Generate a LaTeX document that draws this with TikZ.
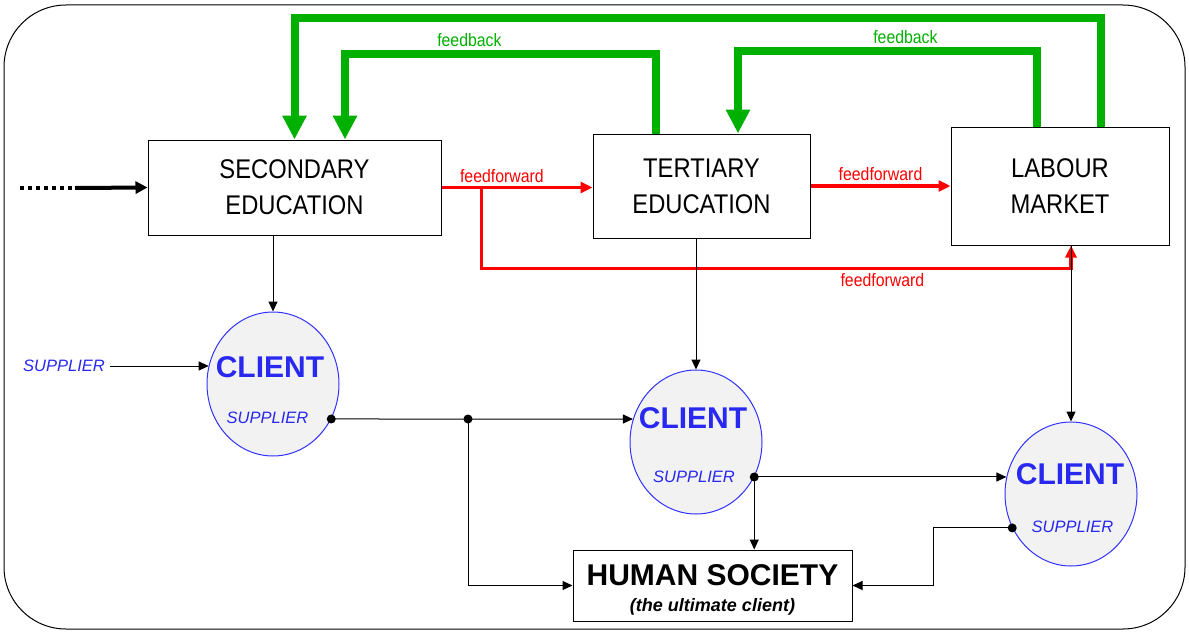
\documentclass[tikz,border=0pt]{standalone}
\usepackage{fontspec}
\setmainfont{Liberation Sans}
\newfontfamily\narrowsf[FakeStretch=0.88]{Liberation Sans}
\usetikzlibrary{arrows.meta,shapes.geometric,calc}
\definecolor{fbgreen}{RGB}{0,176,0}
\definecolor{ffred}{RGB}{255,0,0}
\definecolor{cltext}{RGB}{40,40,240}
\definecolor{clline}{RGB}{50,50,255}
\definecolor{clfill}{RGB}{242,242,242}

\begin{document}
\begin{tikzpicture}[x=1pt,y=-1pt,line width=1pt,
  box/.style={draw,line width=1pt,align=center,inner sep=0pt,font=\narrowsf\fontsize{27}{36}\selectfont},
  client/.style={ellipse,draw=clline,fill=clfill,line width=1pt,minimum width=132pt,minimum height=144pt,inner sep=0pt},
  cltitle/.style={text=cltext,inner sep=0pt,font=\bfseries\fontsize{30}{36}\selectfont},
  clsub/.style={text=cltext,inner sep=0pt,font=\itshape\fontsize{16.5}{20}\selectfont},
  con/.style={line width=1pt,-{Triangle[length=10pt,width=9pt]}},
  ff/.style={ffred,line width=3.5pt,-{Triangle[length=12pt,width=11pt]}},
  fflabel/.style={text=ffred,font=\narrowsf\fontsize{18}{20}\selectfont},
  fb/.style={fbgreen,line width=8pt,line join=miter,-{Triangle[length=24pt,width=23pt]}},
  fblabel/.style={text=fbgreen,font=\narrowsf\fontsize{18}{20}\selectfont}]

\useasboundingbox (0,0) rectangle (1189,634);
\draw[rounded corners=62pt] (4,5) rectangle (1185,629);

% boxes
\node[box,minimum width=293pt,minimum height=95pt] (sec) at (294.5,187.5) {SECONDARY\\EDUCATION};
\node[box,minimum width=217pt,minimum height=104pt] (ter) at (701.5,186) {TERTIARY\\EDUCATION};
\node[box,minimum width=218pt,minimum height=118pt] (lab) at (1060,186) {LABOUR\\MARKET};
\node[draw,line width=1pt,align=center,inner sep=0pt,minimum width=279pt,minimum height=71pt,
  font=\bfseries\fontsize{18}{26}\selectfont] (hs) at (712.5,585.5)
  {\raisebox{-4pt}[\height][\depth]{\fontsize{30}{30}\selectfont HUMAN SOCIETY}\\
   \raisebox{-4pt}[\height][\depth]{\itshape (the ultimate client)}};

% clients
\node[client] (c1) at (273,384) {};
\node[client] (c2) at (696,442) {};
\node[client] (c3) at (1071,494) {};
\node[cltitle] (c1t) at ($(c1)+(-3,-17)$) {CLIENT};
\node[clsub] (c1s) at ($(c1)+(-5.5,34)$) {SUPPLIER};
\node[cltitle] (c2t) at ($(c2)+(-3,-24)$) {CLIENT};
\node[clsub] (c2s) at ($(c2)+(-2,35)$) {SUPPLIER};
\node[cltitle] (c3t) at ($(c3)+(-1,-20)$) {CLIENT};
\node[clsub] (c3s) at ($(c3)+(1.5,33)$) {SUPPLIER};
\node[clsub,inner sep=5pt] (sup) at (64,366) {SUPPLIER};

% input
\coordinate (in0) at (20,188);
\coordinate (in1) at (75,188);
\draw[line width=4pt,dash pattern=on 4pt off 4pt] (in0) -- (in1);
\draw[line width=4pt,-{Triangle[length=12pt,width=12pt]}] (in1) -- (sec.west);

% feedforward
\draw[ff] (sec.east) -- node[fflabel,above,pos=0.4] {feedforward} (sec.east -| ter.west);
\draw[ff] (ter.east) -- node[fflabel,above,pos=0.5] {feedforward} (ter.east -| lab.west);
\coordinate (r1) at ($(sec.east)+(40,0)$);
\draw[ff] (r1) -- ++(0,81) -| node[fflabel,below,pos=0.34] {feedforward} (lab.south -| c3.north);

% feedback
\draw[fb] ([xshift=41pt]lab.north) -- ++(0,-108) -| (sec.north);
\draw[fb] ([xshift=-45.5pt]ter.north) -- ++(0,-79) -| node[fblabel,above,pos=0.3] {feedback} ([xshift=50.5pt]sec.north);
\draw[fb] ([xshift=-23pt]lab.north) -- ++(0,-75) -| node[fblabel,above,pos=0.22] {feedback} ([xshift=36.5pt]ter.north);

% downward links
\draw[con] (sec.south -| c1.north) -- (c1.north);
\draw[con] (ter.south -| c2.north) -- (c2.north);
\draw[con] (lab.south -| c3.north) -- (c3.north);
\draw[con] (sup.east) -- (sup -| c1.164);

% supplier outputs
\coordinate (s1) at (c1.-31);
\coordinate (s2) at (c2.-31);
\coordinate (s3) at (c3.-150);
\coordinate (j1) at (468,419);
\draw[con] (s1) -- (j1) -- (j1 -| c2.160);
\draw[con] (j1) |- (hs.west);
\draw[con] (s2) -- (s2 -| c3.165);
\draw[con] (s2) -- (s2 |- hs.north);
\draw[con] (s3) -- +(-79,0) |- (hs.east);
\fill (s1) circle (4.5) (j1) circle (4.5) (s2) circle (4.5) (s3) circle (4.5);

\end{tikzpicture}
\end{document}
